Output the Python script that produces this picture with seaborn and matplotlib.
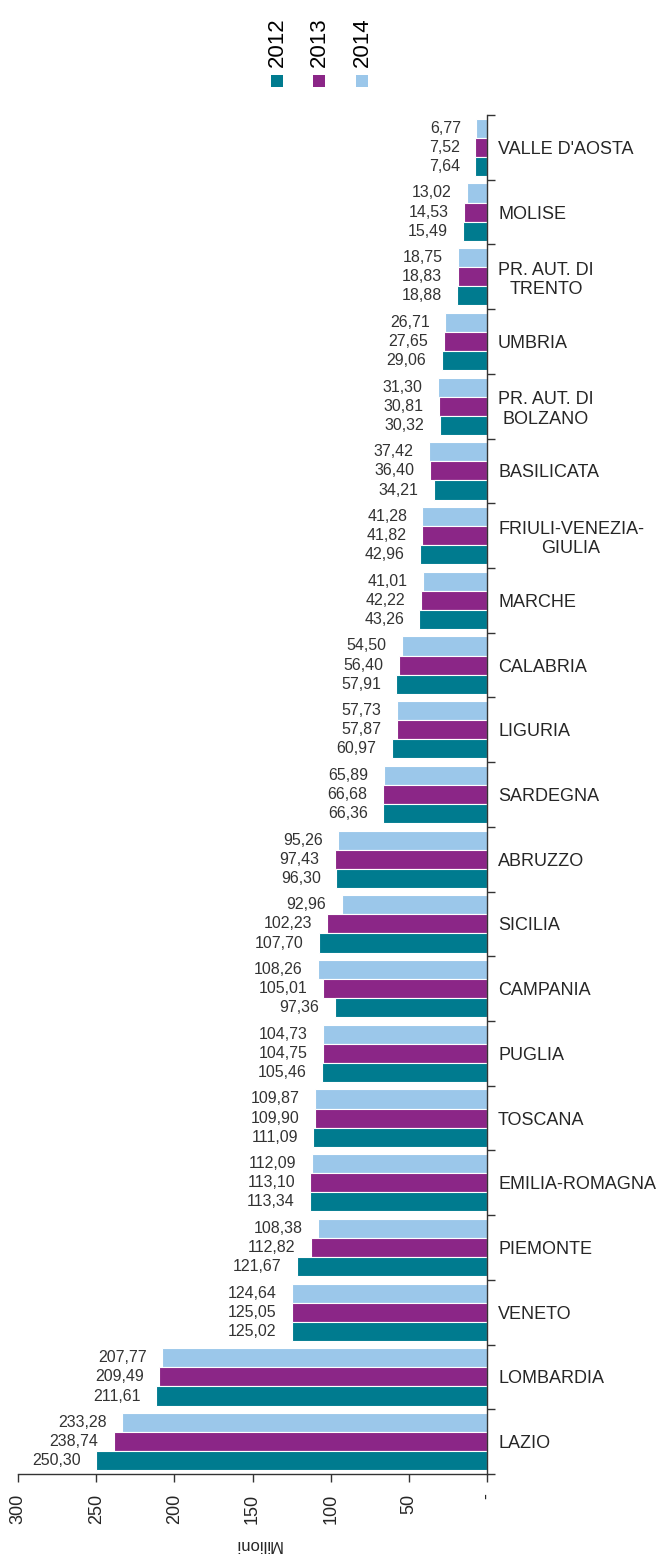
import numpy as np
import pandas as pd
import matplotlib
matplotlib.use("Agg")
import matplotlib.pyplot as plt
import seaborn as sns
from matplotlib.patches import Rectangle

regions = ["VALLE D'AOSTA", "MOLISE", "PR. AUT. DI\nTRENTO", "UMBRIA",
           "PR. AUT. DI\nBOLZANO", "BASILICATA", "FRIULI-VENEZIA-\nGIULIA",
           "MARCHE", "CALABRIA", "LIGURIA", "SARDEGNA", "ABRUZZO", "SICILIA",
           "CAMPANIA", "PUGLIA", "TOSCANA", "EMILIA-ROMAGNA", "PIEMONTE",
           "VENETO", "LOMBARDIA", "LAZIO"]
v2012 = [7.64, 15.49, 18.88, 29.06, 30.32, 34.21, 42.96, 43.26, 57.91, 60.97,
         66.36, 96.30, 107.70, 97.36, 105.46, 111.09, 113.34, 121.67, 125.02,
         211.61, 250.30]
v2013 = [7.52, 14.53, 18.83, 27.65, 30.81, 36.40, 41.82, 42.22, 56.40, 57.87,
         66.68, 97.43, 102.23, 105.01, 104.75, 109.90, 113.10, 112.82, 125.05,
         209.49, 238.74]
v2014 = [6.77, 13.02, 18.75, 26.71, 31.30, 37.42, 41.28, 41.01, 54.50, 57.73,
         65.89, 95.26, 92.96, 108.26, 104.73, 109.87, 112.09, 108.38, 124.64,
         207.77, 233.28]
years = ["2012", "2013", "2014"]
colors = ["#007B8F", "#8B2687", "#9BC7EA"]
x_ticks = [0, 50, 100, 150, 200, 250, 300]
x_tick_labels = ["-", "50", "100", "150", "200", "250", "300"]
axis_title = "Milioni"

df = pd.DataFrame({
    "region": regions * 3,
    "year": ["2012"] * len(regions) + ["2013"] * len(regions) + ["2014"] * len(regions),
    "value": v2012 + v2013 + v2014,
})

plt.rcParams["font.family"] = ["Liberation Sans", "DejaVu Sans"]
txt = "#262626"

fig = plt.figure(figsize=(6.67, 15.66), dpi=100)
W, H = 667, 1566
ax = fig.add_axes([18 / W, 1 - 1474 / H, (487 - 18) / W, (1474 - 115) / H])

hue_order = ["2014", "2013", "2012"]
sns.barplot(data=df, y="region", x="value", hue="year", hue_order=hue_order,
            order=regions, palette=dict(zip(years, colors)), orient="h",
            width=0.885, saturation=1, edgecolor="white", linewidth=0.8,
            errorbar=None, legend=False, ax=ax)

ax.set_xlim(300, 0)
ax.set_ylim(len(regions) - 0.5, -0.5)

for container in ax.containers:
    for bar in container:
        v = bar.get_width()
        y = bar.get_y() + bar.get_height() / 2
        ax.annotate(f"{v:.2f}".replace(".", ","), xy=(v, y), xytext=(-11, 0),
                    textcoords="offset points", ha="right", va="center",
                    fontsize=11.5, color="#333333")

# axes styling
for s in ["left", "top"]:
    ax.spines[s].set_visible(False)
for s in ["right", "bottom"]:
    ax.spines[s].set_color("#333333")
    ax.spines[s].set_linewidth(1.0)

ax.set_xticks(x_ticks)
ax.set_xticklabels(x_tick_labels, rotation=90, fontsize=13, color=txt)
ax.tick_params(axis="x", direction="out", length=6, width=1, color="#333333", pad=8)

ax.yaxis.tick_right()
ax.set_yticks(range(len(regions)))
ax.set_yticklabels(regions, fontsize=13, color=txt)
for lab in ax.get_yticklabels():
    lab.set_multialignment("center")
ax.tick_params(axis="y", which="major", length=0, pad=8)
ax.set_yticks(np.arange(-0.5, len(regions), 1.0), minor=True)
ax.tick_params(axis="y", which="minor", direction="out", length=6, width=1,
               color="#333333", right=True, left=False)
ax.set_xlabel("")
ax.set_ylabel("")

fig.text(258 / W, 1 - 1545 / H, axis_title, rotation=180, ha="center",
         va="center", fontsize=12, color=txt)

# legend
leg_x = [277, 319, 362]
for yr, col, cx in zip(years, colors, leg_x):
    fig.text(cx / W, 1 - 67 / H, yr, rotation=90, ha="center", va="bottom",
             fontsize=16, color="black")
    fig.add_artist(Rectangle(((cx - 6) / W, 1 - 87 / H), 12 / W, 12 / H,
                             transform=fig.transFigure, color=col, lw=0))

fig.savefig("out.png", dpi=100)
